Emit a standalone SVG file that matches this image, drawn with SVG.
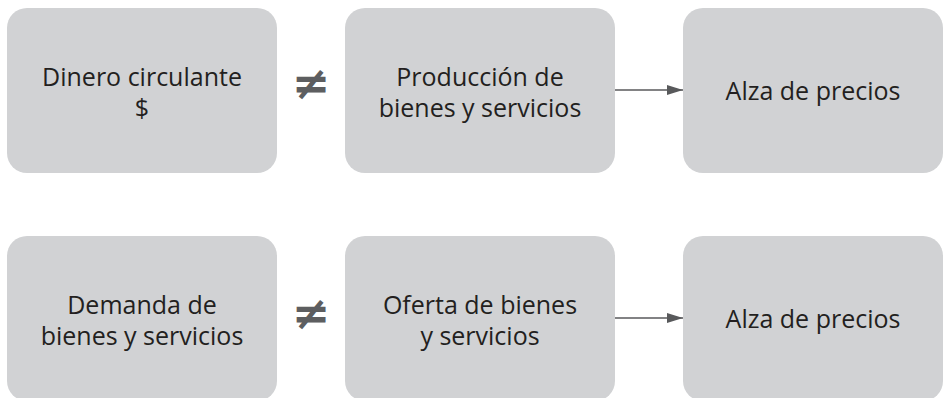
<svg xmlns="http://www.w3.org/2000/svg" width="944" height="398" viewBox="0 0 944 398">
<style>
.box{fill:#d1d2d4}
.t{font-family:"Open Sans","Noto Sans","Liberation Sans",sans-serif;font-size:25px;fill:#231f20;text-anchor:middle}
.ne{font-family:"DejaVu Sans","Liberation Sans",sans-serif;font-size:46px;fill:#5d5e60;text-anchor:middle;font-weight:bold}
.c{stroke:#58595b;stroke-width:1.5;fill:none}
</style>
<defs>
<marker id="ah" markerWidth="16" markerHeight="10" refX="16" refY="5" orient="auto" markerUnits="userSpaceOnUse">
<path d="M0,0 L16,5 L0,10 Z" fill="#58595b"/>
</marker>
</defs>
<rect width="944" height="398" fill="#ffffff"/>
<g id="n1"><rect class="box" x="7" y="8" width="270" height="165" rx="20"/><text class="t" x="142" y="86">Dinero circulante</text><text class="t" x="142" y="117">$</text></g>
<g id="n2"><rect class="box" x="345" y="8" width="270" height="165" rx="20"/><text class="t" x="480" y="86">Producción de</text><text class="t" x="480" y="117">bienes y servicios</text></g>
<g id="n3"><rect class="box" x="683" y="8" width="260" height="165" rx="20"/><text class="t" x="813" y="100">Alza de precios</text></g>
<g id="n4"><rect class="box" x="7" y="236" width="270" height="165" rx="20"/><text class="t" x="142" y="314">Demanda de</text><text class="t" x="142" y="345">bienes y servicios</text></g>
<g id="n5"><rect class="box" x="345" y="236" width="270" height="165" rx="20"/><text class="t" x="480" y="314">Oferta de bienes</text><text class="t" x="480" y="345">y servicios</text></g>
<g id="n6"><rect class="box" x="683" y="236" width="260" height="165" rx="20"/><text class="t" x="813" y="328">Alza de precios</text></g>
<g id="connectors">
<text class="ne" x="311" y="99">≠</text>
<text class="ne" x="311" y="329">≠</text>
<line class="c" x1="615" y1="90" x2="683" y2="90" marker-end="url(#ah)"/>
<line class="c" x1="615" y1="318" x2="683" y2="318" marker-end="url(#ah)"/>
</g>
</svg>
